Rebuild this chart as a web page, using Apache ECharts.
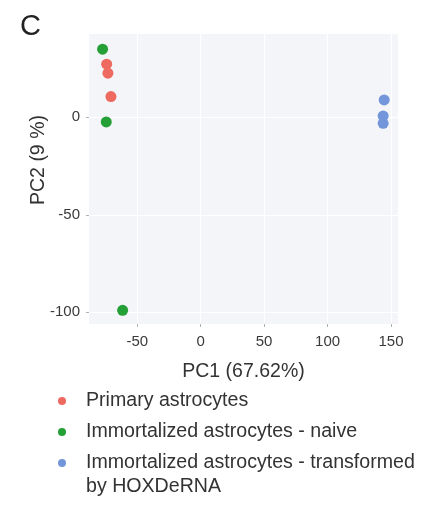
<!DOCTYPE html>
<html>
<head>
<meta charset="utf-8">
<script src="https://cdn.jsdelivr.net/npm/echarts@6/dist/echarts.min.js"></script>
<style>
  html, body { margin: 0; padding: 0; background: #ffffff; }
  #chart { width: 429px; height: 512px; }
</style>
</head>
<body>
<div id="chart"></div>
<script>
// PCA scores per group (PC1, PC2)
const primaryPC1 = [-74.1, -73.1, -70.7];
const primaryPC2 = [27.2, 22.6, 10.6];
const naivePC1 = [-77.3, -74.4, -61.5];
const naivePC2 = [34.9, -2.4, -99.0];
const transformedPC1 = [144.6, 143.8, 143.8];
const transformedPC2 = [8.9, 0.7, -3.1];

const groupNames = [
  'Primary astrocytes',
  'Immortalized astrocytes - naive',
  'Immortalized astrocytes - transformed by HOXDeRNA'
];
const xTicks = [-50, 0, 50, 100, 150];
const yTicks = [-100, -50, 0];

const colors = ['#ee6a60', '#24a036', '#7396da'];
const FONT = '"Liberation Sans", Arial, sans-serif';

function pairs(xs, ys) { return xs.map((x, i) => [x, ys[i]]); }

const chart = echarts.init(document.getElementById('chart'), null, { renderer: 'canvas' });

const tickLabel = { fontFamily: FONT, fontSize: 15, color: '#3a3a3a' };

chart.setOption({
  animation: false,
  backgroundColor: '#ffffff',
  textStyle: { fontFamily: FONT },
  grid: { left: 89, top: 34, width: 309, height: 290, show: true,
          backgroundColor: '#f3f5f8', borderWidth: 0 },
  xAxis: {
    type: 'value', min: -88, max: 155.5,
    name: 'PC1 (67.62%)', nameLocation: 'middle', nameGap: 38,
    nameTextStyle: { fontFamily: FONT, fontSize: 19.5, color: '#333333' },
    axisLine: { show: false, onZero: false },
    axisTick: { show: true, length: 3, customValues: xTicks, lineStyle: { color: '#b0b0b0' } },
    axisLabel: Object.assign({ customValues: xTicks, margin: 10 }, tickLabel),
    splitLine: { show: true, lineStyle: { color: '#ffffff', width: 1 } }
  },
  yAxis: {
    type: 'value', min: -106, max: 42.7,
    name: 'PC2 (9 %)', nameLocation: 'middle', nameGap: 40, nameRotate: 90,
    nameMoveOverlap: false,
    nameTextStyle: { fontFamily: FONT, fontSize: 19.5, color: '#333333', padding: [0, 0, 0, 38] },
    axisLine: { show: false, onZero: false },
    axisTick: { show: true, length: 3, customValues: yTicks, lineStyle: { color: '#b0b0b0' } },
    axisLabel: Object.assign({ customValues: yTicks, margin: 9 }, tickLabel),
    splitLine: { show: true, lineStyle: { color: '#ffffff', width: 1 } }
  },
  legend: {
    orient: 'vertical', left: 58, top: 391, padding: 0,
    icon: 'circle', itemWidth: 8, itemHeight: 8, itemGap: 11,
    data: groupNames,
    formatter: name => name.replace(' by HOXDeRNA', ''),
    textStyle: { fontFamily: FONT, fontSize: 19.6, color: '#333333', lineHeight: 20, padding: [0, 0, 0, 15] }
  },
  graphic: [
    { type: 'text', left: 20, top: 12,
      style: { text: 'C', fontFamily: FONT, fontSize: 29, fill: '#222222' } },
    { type: 'text', left: 86, top: 477,
      style: { text: 'by HOXDeRNA', fontFamily: FONT, fontSize: 19.6, fill: '#333333' } }
  ],
  series: [
    { name: groupNames[0], type: 'scatter', symbolSize: 11, itemStyle: { color: colors[0], opacity: 1 },
      data: pairs(primaryPC1, primaryPC2) },
    { name: groupNames[1], type: 'scatter', symbolSize: 11, itemStyle: { color: colors[1], opacity: 1 },
      data: pairs(naivePC1, naivePC2) },
    { name: groupNames[2], type: 'scatter', symbolSize: 11, itemStyle: { color: colors[2], opacity: 1 },
      data: pairs(transformedPC1, transformedPC2) }
  ]
});
</script>
</body>
</html>
